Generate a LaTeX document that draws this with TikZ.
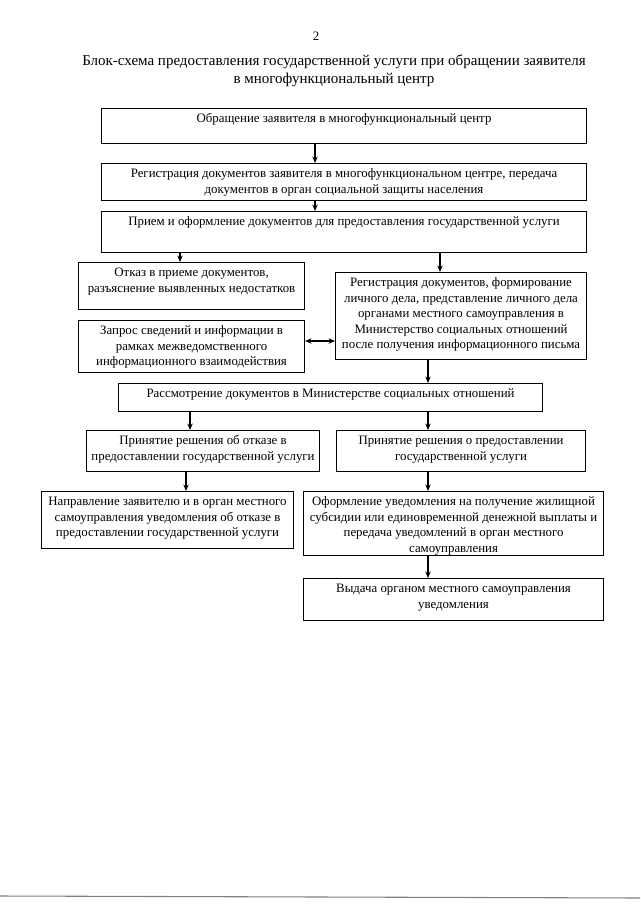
\documentclass[tikz,border=0pt]{standalone}
\usepackage{fontspec}
\setmainfont{Liberation Serif}
\usetikzlibrary{calc, positioning}
\usetikzlibrary{arrows.meta}

\newdimen\pxu
\pxu=0.93361pt
\newcommand{\blocktext}[3]{\parbox[c][#2\pxu][t]{#1\pxu}{\centering\vspace{3.2pt}\strut#3}}

\tikzset{
  block/.style={draw, line width=1pt, inner sep=0pt, anchor=north west,
    font=\fontsize{12}{14.4}\selectfont},
  flow/.style={-{Stealth[length=6pt, width=5pt]}, line width=1pt},
  twoway/.style={{Stealth[length=6pt, width=5pt]}-{Stealth[length=6pt, width=5pt]}, line width=1pt},
}

\begin{document}
\begin{tikzpicture}[x=0.93361pt, y=-0.93361pt]
\useasboundingbox (0,0) rectangle (640,905);

\coordinate (xA) at (315,0);
\coordinate (xB) at (180,0);
\coordinate (xC) at (440,0);
\coordinate (xD) at (428,0);
\coordinate (xE) at (190,0);
\coordinate (xF) at (186,0);
\coordinate (yD) at (0,341);

\node[font=\fontsize{12}{14}\selectfont] (Num) at (316,36) {2};
\node[font=\fontsize{14}{17}\selectfont, align=center] (Title) at (334,71)
  {Блок-схема предоставления государственной услуги при обращении заявителя\\
   в многофункциональный центр};

\node[block] (Obr) at (101,108) {\blocktext{485}{35}{Обращение заявителя в многофункциональный центр}};
\node[block] (RegM) at (101,163) {\blocktext{485}{37}{Регистрация документов заявителя в многофункциональном центре, передача\\документов в орган социальной защиты населения}};
\node[block] (Pr) at (101,211) {\blocktext{485}{41}{Прием и оформление документов для предоставления государственной услуги}};
\node[block] (Otk) at (78,262) {\blocktext{226}{47}{Отказ в приеме документов,\\разъяснение выявленных недостатков}};
\node[block] (Reg) at (335,272) {\blocktext{251}{87}{Регистрация документов, формирование\\личного дела, представление личного дела\\органами местного самоуправления в\\Министерство социальных отношений\\после получения информационного письма}};
\node[block] (Zap) at (78,320) {\blocktext{226}{52}{Запрос сведений и информации в\\рамках межведомственного\\информационного взаимодействия}};
\node[block] (Ras) at (118,383) {\blocktext{424}{28}{Рассмотрение документов в Министерстве социальных отношений}};
\node[block] (ResN) at (86,430) {\blocktext{233}{41}{Принятие решения об отказе в\\предоставлении государственной услуги}};
\node[block] (ResP) at (336,430) {\blocktext{249}{41}{Принятие решения о предоставлении\\государственной услуги}};
\node[block] (Napr) at (41,491) {\blocktext{252}{57}{Направление заявителю и в орган местного\\самоуправления уведомления об отказе в\\предоставлении государственной услуги}};
\node[block] (Oform) at (303,491) {\blocktext{300}{64}{Оформление уведомления на получение жилищной\\субсидии или единовременной денежной выплаты и\\передача уведомлений в орган местного\\самоуправления}};
\node[block] (Vyd) at (303,578) {\blocktext{300}{42}{Выдача органом местного самоуправления\\уведомления}};

\draw[flow] (Obr.south -| xA) -- (RegM.north -| xA);
\draw[flow] (RegM.south -| xA) -- (Pr.north -| xA);
\draw[flow] (Pr.south -| xB) -- (Otk.north -| xB);
\draw[flow] (Pr.south -| xC) -- (Reg.north -| xC);
\draw[twoway] (Zap.east |- yD) -- (Reg.west |- yD);
\draw[flow] (Reg.south -| xD) -- (Ras.north -| xD);
\draw[flow] (Ras.south -| xE) -- (ResN.north -| xE);
\draw[flow] (Ras.south -| xD) -- (ResP.north -| xD);
\draw[flow] (ResN.south -| xF) -- (Napr.north -| xF);
\draw[flow] (ResP.south -| xD) -- (Oform.north -| xD);
\draw[flow] (Oform.south -| xD) -- (Vyd.north -| xD);

\draw[gray, line width=1pt] (0,896) -- (640,898);
\end{tikzpicture}
\end{document}
